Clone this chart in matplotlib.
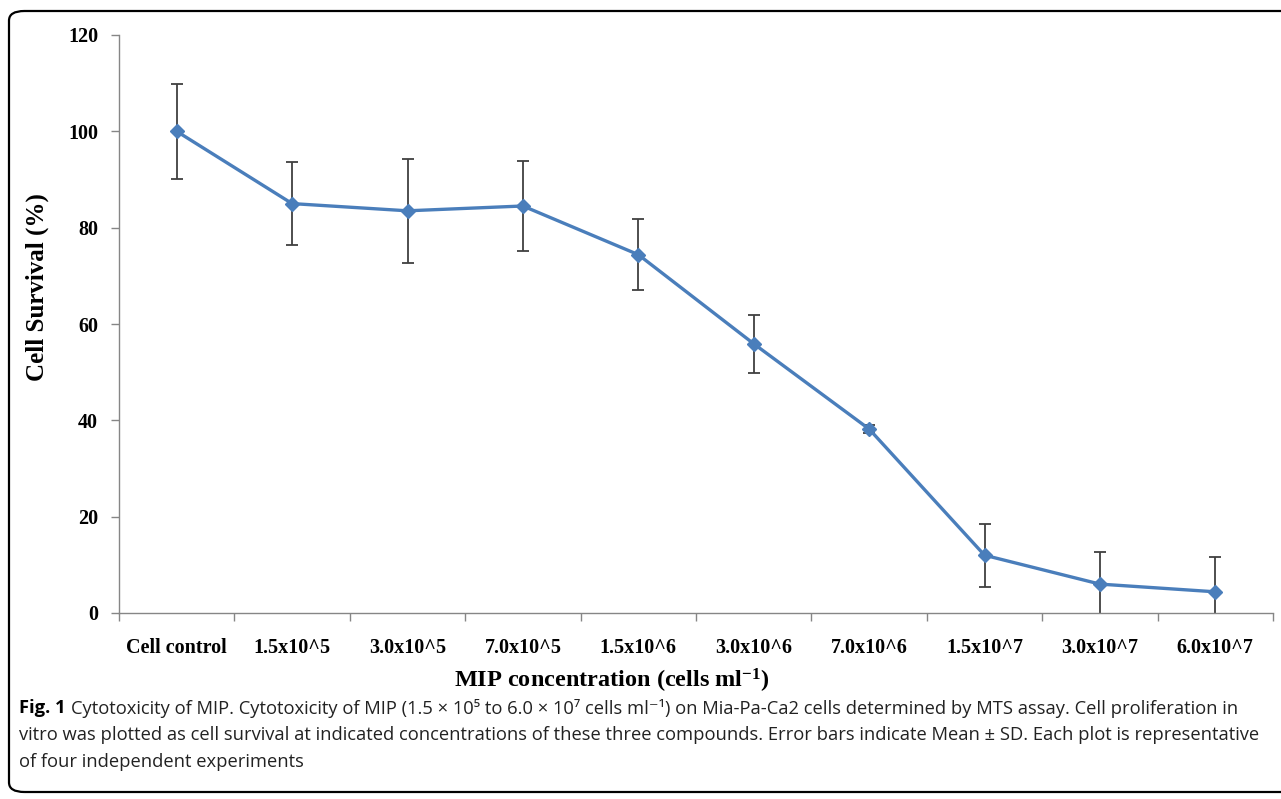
import numpy as np
import matplotlib
matplotlib.use("Agg")
import matplotlib.pyplot as plt
from matplotlib.patches import FancyBboxPatch

# values
labels = ['Cell control', '1.5x10^5', '3.0x10^5', '7.0x10^5', '1.5x10^6',
          '3.0x10^6', '7.0x10^6', '1.5x10^7', '3.0x10^7', '6.0x10^7']
survival = [100.0, 85.0, 83.5, 84.5, 74.4, 55.9, 38.2, 12.0, 6.0, 4.4]
sd = [9.8, 8.7, 10.8, 9.4, 7.3, 6.0, 0.8, 6.5, 6.7, 7.2]

plt.rcParams['mathtext.fontset'] = 'custom'
plt.rcParams['mathtext.rm'] = 'Liberation Serif:bold'
plt.rcParams['mathtext.it'] = 'Liberation Serif:bold'
plt.rcParams['mathtext.bf'] = 'Liberation Serif:bold'

serif = 'Liberation Serif'
fig = plt.figure(figsize=(12.81, 7.99), dpi=100)
ax = fig.add_axes([119/1281, 1-613/799, (1273-119)/1281, (613-35)/799])

x = np.arange(len(labels))
ax.errorbar(x, survival, yerr=sd, fmt='none', ecolor='#404040', elinewidth=1.3,
            capsize=4, capthick=1.3, zorder=2)
ax.plot(x, survival, color='#4a7ebb', lw=2.4, marker='D', ms=7,
        mfc='#4a7ebb', mec='#4a7ebb', zorder=3)

ax.set_xlim(-0.5, len(labels)-0.5)
ax.set_ylim(0, 120)
ax.set_yticks(np.arange(0, 121, 20))
ax.set_xticks(x)
ax.set_xticklabels(labels)
ax.set_xticks(np.arange(-0.5, len(labels)), minor=True)
ax.tick_params(axis='x', which='major', length=0, pad=18)
ax.tick_params(axis='x', which='minor', length=6, color='#868686', width=1)
ax.tick_params(axis='y', length=6, color='#868686', width=1, pad=9)
for t in ax.get_xticklabels() + ax.get_yticklabels():
    t.set_fontfamily(serif)
    t.set_fontweight('bold')
    t.set_fontsize(14.5)
for s in ['top', 'right']:
    ax.spines[s].set_visible(False)
for s in ['left', 'bottom']:
    ax.spines[s].set_color('#868686')
    ax.spines[s].set_linewidth(1)

fig.text(37/1281, 1-287/799, 'Cell Survival (%)', rotation=90, ha='center',
         va='center', family=serif, weight='bold', fontsize=18)
fig.text(612/1281, 1-681/799, r'MIP concentration (cells ml$^{-1}$)', ha='center',
         va='center', family=serif, weight='bold', fontsize=17.5)

# caption
cap_font = ['Open Sans', 'DejaVu Sans']
cap_size = 13.2
renderer = fig.canvas.get_renderer()
t0 = fig.text(19/1281, 1-708/799, 'Fig. 1', family=cap_font, weight='bold',
              fontsize=cap_size, va='center')
bb = t0.get_window_extent(renderer)
fig.text(bb.x1/1281 + 5/1281, 1-708/799,
         'Cytotoxicity of MIP. Cytotoxicity of MIP (1.5 \u00d7 10\u2075 to 6.0 \u00d7 10\u2077 cells ml\u207b\u00b9) '
         'on Mia-Pa-Ca2 cells determined by MTS assay. Cell proliferation in',
         family=cap_font, fontsize=cap_size, va='center', color='#222222')
fig.text(19/1281, 1-735/799,
         'vitro was plotted as cell survival at indicated concentrations of these three compounds. '
         'Error bars indicate Mean \u00b1 SD. Each plot is representative',
         family=cap_font, fontsize=cap_size, va='center', color='#222222')
fig.text(19/1281, 1-762/799, 'of four independent experiments',
         family=cap_font, fontsize=cap_size, va='center', color='#222222')

# rounded frame round the figure
frame = FancyBboxPatch((9/1281, 1-792/799), 1300/1281, (792-11)/799,
                       boxstyle='round,pad=0,rounding_size=0.012',
                       transform=fig.transFigure, fill=False, ec='black',
                       lw=1.6, clip_on=False)
fig.patches.append(frame)

fig.savefig('out.png', dpi=100)
